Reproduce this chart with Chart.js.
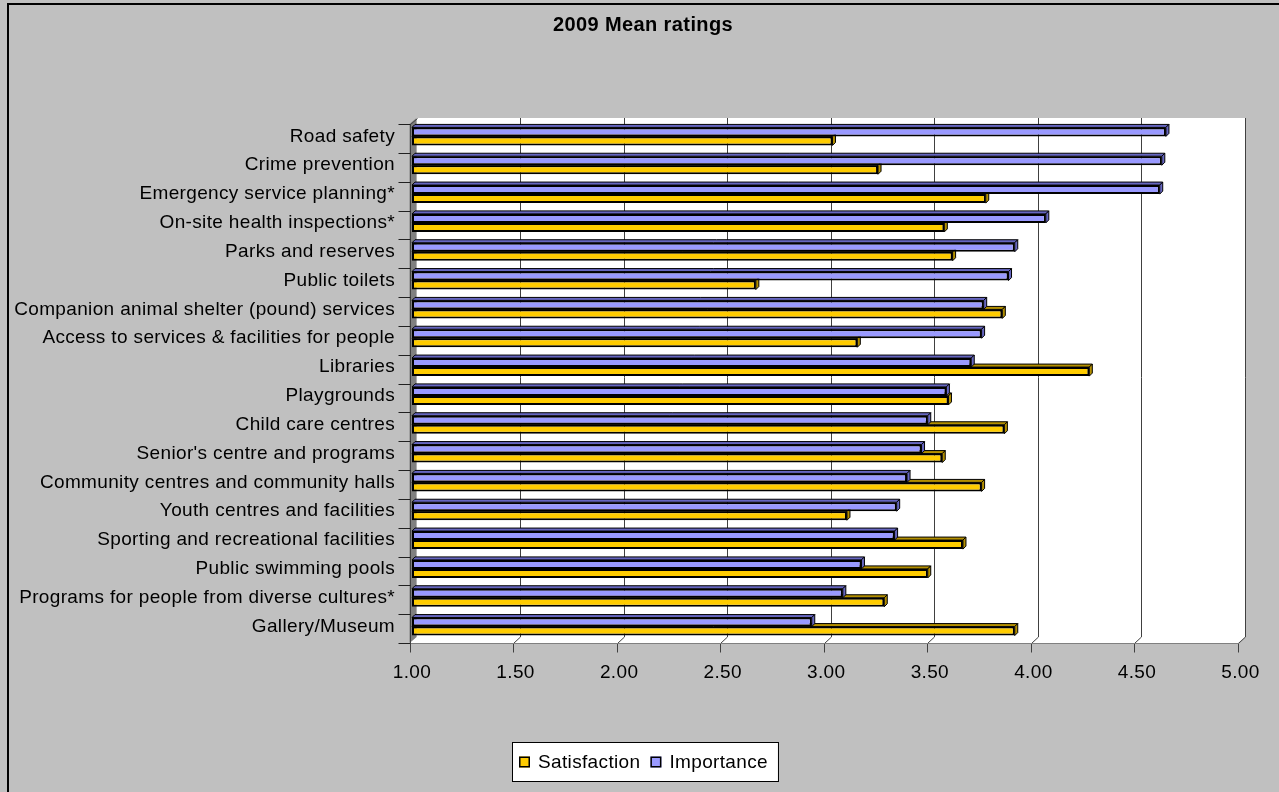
<!DOCTYPE html>
<html>
<head>
<meta charset="utf-8">
<title>2009 Mean ratings</title>
<script src="https://cdn.jsdelivr.net/npm/chart.js@4/dist/chart.umd.min.js"></script>
<style>
  html, body { margin: 0; padding: 0; background: #c0c0c0; }
  #wrap { width: 1279px; height: 792px; }
</style>
</head>
<body>
<div id="wrap"><canvas id="chart" width="1279" height="792"></canvas></div>
<script>
// Service areas, listed top to bottom
const categories = [
  "Road safety",
  "Crime prevention",
  "Emergency service planning*",
  "On-site health inspections*",
  "Parks and reserves",
  "Public toilets",
  "Companion animal shelter (pound) services",
  "Access to services & facilities for people",
  "Libraries",
  "Playgrounds",
  "Child care centres",
  "Senior's centre and programs",
  "Community centres and community halls",
  "Youth centres and facilities",
  "Sporting and recreational facilities",
  "Public swimming pools",
  "Programs for people from diverse cultures*",
  "Gallery/Museum"
];

// Mean ratings (1-5 scale)
const importance = [4.64, 4.62, 4.61, 4.06, 3.91, 3.88, 3.76, 3.75, 3.70, 3.58, 3.49, 3.46, 3.39, 3.34, 3.33, 3.17, 3.08, 2.93];
const satisfaction = [3.03, 3.25, 3.77, 3.57, 3.61, 2.66, 3.85, 3.15, 4.27, 3.59, 3.86, 3.56, 3.75, 3.10, 3.66, 3.49, 3.28, 3.91];

// Value axis
const axisMin = 1;
const axisMax = 5;
const axisStep = 0.5;

const chartTitle = '2009 Mean ratings';

const FONT = '"Liberation Sans", Arial, sans-serif';
Chart.defaults.font.family = FONT;
Chart.defaults.font.size = 19;
Chart.defaults.color = '#000';

// Offsets of the front edge and back wall relative to the bar plane
const FRONT = { dx: -2.5, dy: 2 };
const BACK = { dx: 4.5, dy: -4 };
const BAR_DEPTH = 3;

function px(v) { return Math.round(v) + 0.5; }

// Grey frame, back wall, floor, left wall and gridlines
const frame3d = {
  id: 'frame3d',
  beforeDraw(chart) {
    const ctx = chart.ctx;
    const { left, right, top, bottom } = chart.chartArea;
    const xs = chart.scales.x;
    const ys = chart.scales.y;
    ctx.save();
    ctx.fillStyle = '#c0c0c0';
    ctx.fillRect(0, 0, chart.width, chart.height);
    ctx.strokeStyle = '#000';
    ctx.lineWidth = 2;
    ctx.strokeRect(8, 4, chart.width + 40, chart.height + 40);

    const fL = left + FRONT.dx, fR = right + FRONT.dx, fT = top + FRONT.dy, fB = bottom + FRONT.dy;
    const bL = left + BACK.dx, bR = right + BACK.dx, bT = top + BACK.dy, bB = bottom + BACK.dy;

    // back wall
    ctx.fillStyle = '#fff';
    ctx.fillRect(bL, bT, bR - bL, bB - bT);
    // floor
    ctx.beginPath();
    ctx.moveTo(fL, fB); ctx.lineTo(bL, bB); ctx.lineTo(bR, bB); ctx.lineTo(fR, fB); ctx.closePath();
    ctx.fill();
    // left wall
    ctx.fillStyle = '#808080';
    ctx.beginPath();
    ctx.moveTo(fL, fT); ctx.lineTo(bL, bT); ctx.lineTo(bL, bB); ctx.lineTo(fL, fB); ctx.closePath();
    ctx.fill();

    // gridlines on back wall and floor, tick marks under the floor
    ctx.lineWidth = 1;
    for (let v = axisMin; v <= axisMax + 1e-9; v += axisStep) {
      const x = xs.getPixelForValue(v);
      const bx = px(x + BACK.dx), fx = px(x + FRONT.dx);
      if (v > axisMin) {
        ctx.strokeStyle = '#404040';
        ctx.beginPath();
        ctx.moveTo(bx, bT); ctx.lineTo(bx, bB); ctx.lineTo(fx, px(fB));
        ctx.stroke();
      }
      ctx.strokeStyle = '#404040';
      ctx.beginPath();
      ctx.moveTo(fx, px(fB)); ctx.lineTo(fx, px(fB) + 9);
      ctx.stroke();
    }
    // floor front edge
    ctx.strokeStyle = '#808080';
    ctx.beginPath();
    ctx.moveTo(px(fL), px(fB)); ctx.lineTo(px(fR), px(fB));
    ctx.stroke();
    // left wall edges
    ctx.strokeStyle = '#404040';
    ctx.beginPath();
    ctx.moveTo(px(fL), px(fB)); ctx.lineTo(px(fL), px(fT)); ctx.lineTo(px(bL), px(bT));
    ctx.stroke();
    // category tick marks at band boundaries
    const band = ys.getPixelForValue(1) - ys.getPixelForValue(0);
    ctx.strokeStyle = '#202020';
    for (let k = 0; k <= categories.length; k++) {
      const y = px(ys.getPixelForValue(k) - band / 2 + FRONT.dy);
      ctx.beginPath();
      ctx.moveTo(px(fL) - 12, y); ctx.lineTo(px(fL), y);
      ctx.stroke();
    }
    // title, centred over the whole frame
    ctx.fillStyle = '#000';
    ctx.font = 'bold 20px ' + FONT;
    ctx.textAlign = 'center';
    ctx.textBaseline = 'middle';
    ctx.letterSpacing = '0.4px';
    ctx.fillText(chartTitle, 643, 25);
    ctx.restore();
    // slightly open spacing for all axis and label text
    ctx.letterSpacing = '0.35px';
  },
  // top and end faces of each bar, behind the front faces
  beforeDatasetsDraw(chart) {
    const ctx = chart.ctx;
    const d = BAR_DEPTH;
    ctx.save();
    ctx.lineWidth = 1;
    ctx.strokeStyle = '#000';
    for (let i = chart.data.datasets.length - 1; i >= 0; i--) {
      const ds = chart.data.datasets[i];
      const meta = chart.getDatasetMeta(i);
      meta.data.forEach(el => {
        const { x, y, base, height } = el.getProps(['x', 'y', 'base', 'height'], true);
        const t = y - height / 2, b = y + height / 2;
        ctx.fillStyle = ds.faceColor;
        ctx.beginPath();
        ctx.moveTo(base, t); ctx.lineTo(base + d, t - d); ctx.lineTo(x + d, t - d); ctx.lineTo(x, t); ctx.closePath();
        ctx.fill(); ctx.stroke();
        ctx.beginPath();
        ctx.moveTo(x, t); ctx.lineTo(x + d, t - d); ctx.lineTo(x + d, b - d); ctx.lineTo(x, b); ctx.closePath();
        ctx.fill(); ctx.stroke();
      });
    }
    ctx.restore();
  }
};

// Boxed legend below the axis
const boxedLegend = {
  id: 'boxedLegend',
  afterDraw(chart) {
    const ctx = chart.ctx;
    const items = chart.data.datasets.slice().reverse();
    ctx.save();
    ctx.font = '19px ' + FONT;
    const sw = 11, padL = 7, gapSw = 8, gapItem = 10, padR = 10;
    let w = padL + padR;
    items.forEach((ds, i) => {
      w += sw + gapSw + ctx.measureText(ds.label).width + (i < items.length - 1 ? gapItem : 0);
    });
    const h = 39;
    const cx = 645;
    const x0 = Math.round(cx - w / 2), y0 = 742;
    ctx.fillStyle = '#fff';
    ctx.fillRect(x0, y0, w, h);
    ctx.strokeStyle = '#000';
    ctx.lineWidth = 1;
    ctx.strokeRect(x0 + 0.5, y0 + 0.5, w, h);
    let x = x0 + padL;
    const cy = y0 + h / 2;
    items.forEach((ds) => {
      ctx.fillStyle = ds.backgroundColor;
      ctx.fillRect(x, cy - 5, sw, sw);
      ctx.strokeStyle = '#000';
      ctx.lineWidth = 1.5;
      ctx.strokeRect(x + 0.75, cy - 4.25, sw - 1.5, sw - 1.5);
      x += sw + gapSw;
      ctx.fillStyle = '#000';
      ctx.textBaseline = 'middle';
      ctx.textAlign = 'left';
      ctx.fillText(ds.label, x, cy + 1);
      x += ctx.measureText(ds.label).width + gapItem;
    });
    ctx.restore();
  }
};

new Chart(document.getElementById('chart'), {
  type: 'bar',
  data: {
    labels: categories,
    datasets: [
      {
        label: 'Importance',
        data: importance,
        base: axisMin,
        backgroundColor: '#9999FF',
        faceColor: '#6666C0',
        borderColor: '#000',
        borderWidth: 2,
        borderSkipped: false,
        categoryPercentage: 0.625,
        barPercentage: 1.0
      },
      {
        label: 'Satisfaction',
        data: satisfaction,
        base: axisMin,
        backgroundColor: '#FFCC00',
        faceColor: '#B38F00',
        borderColor: '#000',
        borderWidth: 2,
        borderSkipped: false,
        categoryPercentage: 0.625,
        barPercentage: 1.0
      }
    ]
  },
  options: {
    indexAxis: 'y',
    responsive: false,
    animation: false,
    devicePixelRatio: 1,
    layout: { padding: { left: 0, right: 38, top: 122, bottom: 0 } },
    plugins: {
      legend: { display: false },
      tooltip: { enabled: false },
      title: { display: false }
    },
    scales: {
      x: {
        type: 'linear',
        min: axisMin,
        max: axisMax,
        grid: { display: false, drawTicks: false },
        border: { display: false },
        ticks: {
          stepSize: axisStep,
          padding: 20,
          color: '#000',
          font: { family: FONT, size: 19 },
          callback: (v) => Number(v).toFixed(2),
          maxRotation: 0
        },
        afterFit(scale) { scale.height = 151; }
      },
      y: {
        type: 'category',
        grid: { display: false, drawTicks: false },
        border: { display: false },
        ticks: {
          autoSkip: false,
          padding: 17,
          color: '#000',
          font: { family: FONT, size: 19 }
        },
        afterFit(scale) { scale.width = 412; }
      }
    }
  },
  plugins: [frame3d, boxedLegend]
});
</script>
</body>
</html>
